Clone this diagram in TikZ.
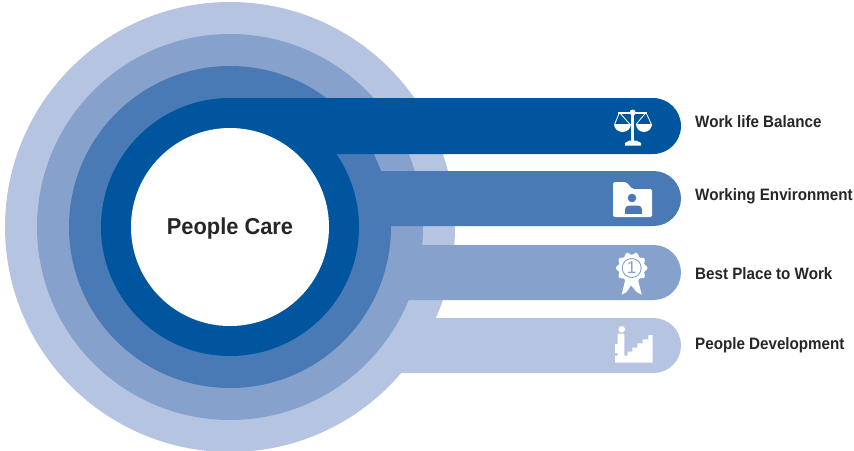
\documentclass[tikz,border=0pt]{standalone}
\usepackage{fontspec}
\setmainfont{Liberation Sans}
\definecolor{cA}{HTML}{00559F}
\definecolor{cB}{HTML}{4A7AB5}
\definecolor{cC}{HTML}{86A2CC}
\definecolor{cD}{HTML}{B5C5E1}
\newcommand{\lbltext}[1]{\scalebox{0.92}[1]{#1}}
\tikzset{
  lbl/.style={anchor=west,font=\bfseries\fontsize{16.5}{18}\selectfont,text=black!85,inner sep=0pt},
}
\begin{document}
\begin{tikzpicture}[x=1pt,y=-1pt]
\useasboundingbox (0,0) rectangle (854,450);
\def\cx{230}\def\cy{227}
\fill[cD] (\cx,\cy) circle[radius=225pt];
\fill[cD] (\cx,318) -- (653.5,318) arc[start angle=90,end angle=-90,radius=27.5pt] -- (\cx,373) -- cycle;
\fill[cC] (\cx,\cy) circle[radius=193pt];
\fill[cC] (\cx,245) -- (653.5,245) arc[start angle=90,end angle=-90,radius=27.5pt] -- (\cx,300) -- cycle;
\fill[cB] (\cx,\cy) circle[radius=161pt];
\fill[cB] (\cx,171) -- (653.5,171) arc[start angle=90,end angle=-90,radius=27.5pt] -- (\cx,226) -- cycle;
\fill[cA] (\cx,\cy) circle[radius=129pt];
\fill[cA] (\cx,98) -- (653,98) arc[start angle=90,end angle=-90,radius=28pt] -- (\cx,154) -- cycle;
\fill[white] (\cx,\cy) circle[radius=99pt];
\node[font=\bfseries\fontsize{23}{26}\selectfont,text=black!85,inner sep=0pt] (title) at (230,228.5) {\scalebox{0.95}[1]{People Care}};
\node[lbl] (l1) at (695,122) {\lbltext{Work life Balance}};
\node[lbl] (l2) at (695,196) {\lbltext{Working Environment}};
\node[lbl] (l3) at (695,274) {\lbltext{Best Place to Work}};
\node[lbl] (l4) at (695,345) {\lbltext{People Development}};
% scales icon
\fill[white] (631.3,112) rectangle (634,143);
\fill[white] (632.7,112.5) circle[radius=3pt];
\fill[white] (618,111.5) rectangle (647,113.5);
\fill[white] (625,143) -- (629.5,140.5) -- (636,140.5) -- (641,143) -- (641,145.5) -- (625,145.5) -- cycle;
\draw[white,line width=.8pt] (614.5,124.5) -- (619.5,112.5) -- (630,124.5);
\draw[white,line width=.8pt] (636,124.5) -- (646,112.5) -- (651.5,124.5);
\fill[white] (614,124) arc[start angle=180,end angle=360,x radius=8.5pt,y radius=8pt] -- cycle;
\fill[white] (636,124) arc[start angle=180,end angle=360,x radius=8pt,y radius=8pt] -- cycle;
% folder icon
\fill[white,rounded corners=1.5pt] (613,182) -- (626,182) -- (632.5,189) -- (652,189) -- (652,217) -- (613,217) -- cycle;
\fill[cB] (632,198) circle[radius=4.3pt];
\fill[cB,rounded corners=4pt] (625,213.5) -- (625,205.5) -- (642,205.5) -- (642,213.5) -- cycle;
\fill[cB] (625,210) rectangle (642,213.5);
% award icon
\fill[white] (625,281) -- (621.7,294.7) -- (626.7,292) -- (631,285.3) -- (636.7,292) -- (641.7,294.7) -- (638.3,281) -- cycle;
\fill[white] plot[smooth cycle,samples=61,domain=0:354,variable=\t] ({631.7+(14.5+1.4*cos(10*\t))*cos(\t)},{268+(14.5+1.4*cos(10*\t))*sin(\t)});
\draw[cC,line width=.9pt] (631.7,268) circle[radius=9.5pt];
\node[font=\fontsize{17}{18}\selectfont,text=cC,inner sep=0pt] (one) at (631.7,268) {1};
% stairs icon
\fill[white] (621.7,329.3) circle[radius=3.3pt];
\fill[white,rounded corners=1pt] (617.7,333.5) -- (624.3,333.5) -- (624.3,357) -- (617.7,357) -- cycle;
\fill[white] (615,343.5) rectangle (619,353);
\fill[white] (615,362.7) -- (615,355.5) -- (627.7,355.5) -- (627.7,351.7) -- (632.3,351.7) -- (632.3,347.7) -- (637.3,347.7) -- (637.3,343.3) -- (642.7,343.3) -- (642.7,339.3) -- (648.3,339.3) -- (648.3,335) -- (652.7,335) -- (652.7,362.7) -- cycle;
\end{tikzpicture}
\end{document}
